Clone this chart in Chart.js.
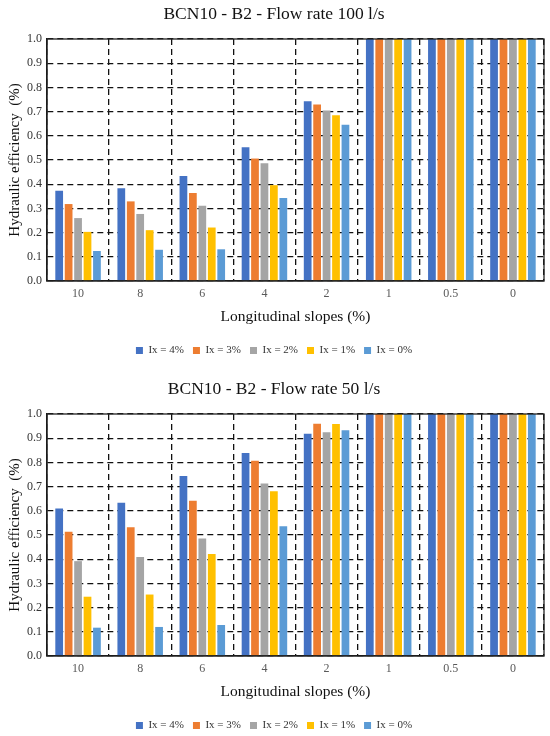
<!DOCTYPE html>
<html>
<head>
<meta charset="utf-8">
<script src="https://cdn.jsdelivr.net/npm/chart.js@4.4.1/dist/chart.umd.min.js"></script>
<style>
  html, body { margin: 0; background: #fff; overflow: hidden; height: 736px; }
  canvas { display: block; position: absolute; left: 0; }
  #chartTop { top: 0; }
  #chartBottom { top: 375px; }
</style>
</head>
<body>
<canvas id="chartTop" width="550" height="368"></canvas>
<canvas id="chartBottom" width="550" height="368"></canvas>
<script>
const slopes = ['10', '8', '6', '4', '2', '1', '0.5', '0'];
const seriesNames = ['Ix = 4%', 'Ix = 3%', 'Ix = 2%', 'Ix = 1%', 'Ix = 0%'];
const seriesColors = ['#4472C4', '#ED7D31', '#A5A5A5', '#FFC000', '#5B9BD5'];
const yTicks = [0, 0.1, 0.2, 0.3, 0.4, 0.5, 0.6, 0.7, 0.8, 0.9, 1.0];

// flow rate 100 l/s
const q100_ix4 = [0.373, 0.383, 0.434, 0.553, 0.743, 1, 1, 1];
const q100_ix3 = [0.318, 0.329, 0.364, 0.506, 0.729, 1, 1, 1];
const q100_ix2 = [0.260, 0.277, 0.311, 0.487, 0.705, 1, 1, 1];
const q100_ix1 = [0.203, 0.210, 0.221, 0.396, 0.685, 1, 1, 1];
const q100_ix0 = [0.124, 0.129, 0.131, 0.343, 0.646, 1, 1, 1];

// flow rate 50 l/s
const q50_ix4 = [0.609, 0.633, 0.744, 0.839, 0.918, 1, 1, 1];
const q50_ix3 = [0.513, 0.532, 0.642, 0.807, 0.960, 1, 1, 1];
const q50_ix2 = [0.392, 0.409, 0.486, 0.713, 0.925, 1, 1, 1];
const q50_ix1 = [0.245, 0.254, 0.421, 0.681, 0.959, 1, 1, 1];
const q50_ix0 = [0.117, 0.120, 0.128, 0.536, 0.933, 1, 1, 1];

const serif = "'Liberation Serif', 'Times New Roman', serif";

// solid frame round the plot area
const framePlugin = {
    id: 'frame',
    afterDraw(chart) {
        const a = chart.chartArea;
        const ctx = chart.ctx;
        ctx.save();
        ctx.strokeStyle = '#222';
        ctx.lineWidth = 1.3;
        ctx.strokeRect(a.left, a.top, a.right - a.left, a.bottom - a.top);
        ctx.restore();
    }
};

function makeChart(id, title, series) {
    const ctx = document.getElementById(id).getContext('2d');
    return new Chart(ctx, {
        type: 'bar',
        data: {
            labels: slopes,
            datasets: series.map((vals, i) => ({
                label: seriesNames[i],
                data: vals,
                backgroundColor: seriesColors[i],
                borderWidth: 0
            }))
        },
        options: {
            responsive: false,
            animation: false,
            categoryPercentage: 0.76,
            barPercentage: 0.82,
            layout: { padding: { left: 4, right: 6, top: 4, bottom: 2 } },
            plugins: {
                title: {
                    display: true,
                    text: title,
                    color: '#111',
                    font: { family: serif, size: 17.5, weight: 'normal' },
                    padding: { top: 0, bottom: 14 }
                },
                legend: {
                    position: 'bottom',
                    labels: {
                        boxWidth: 7,
                        boxHeight: 7,
                        color: '#333',
                        padding: 9,
                        font: { family: serif, size: 11 }
                    }
                },
                tooltip: { enabled: false }
            },
            scales: {
                x: {
                    grid: {
                        offset: true,
                        color: '#111',
                        lineWidth: 1.3,
                        drawTicks: false
                    },
                    border: { display: true, color: '#111', width: 1.3, dash: [6, 4] },
                    ticks: {
                        color: '#595959',
                        padding: 6,
                        font: { family: serif, size: 12 }
                    },
                    title: {
                        display: true,
                        text: 'Longitudinal slopes (%)',
                        color: '#111',
                        padding: { top: 0, bottom: 10 },
                        font: { family: serif, size: 15.5 }
                    }
                },
                y: {
                    min: 0,
                    max: 1,
                    afterBuildTicks(scale) {
                        scale.ticks = yTicks.map(v => ({ value: v }));
                    },
                    afterFit(scale) {
                        scale.width = 43;
                    },
                    grid: {
                        color: '#111',
                        lineWidth: 1.3,
                        drawTicks: false
                    },
                    border: { display: true, color: '#111', width: 1.3, dash: [6, 4] },
                    ticks: {
                        color: '#333',
                        padding: 5,
                        font: { family: serif, size: 12 },
                        callback: v => Number(v).toFixed(1)
                    },
                    title: {
                        display: true,
                        text: 'Hydraulic efficiency  (%)',
                        color: '#111',
                        padding: 2,
                        font: { family: serif, size: 15 }
                    }
                }
            }
        },
        plugins: [framePlugin]
    });
}

makeChart('chartTop', 'BCN10 - B2 - Flow rate 100 l/s',
    [q100_ix4, q100_ix3, q100_ix2, q100_ix1, q100_ix0]);
makeChart('chartBottom', 'BCN10 - B2 - Flow rate 50 l/s',
    [q50_ix4, q50_ix3, q50_ix2, q50_ix1, q50_ix0]);
</script>
</body>
</html>
